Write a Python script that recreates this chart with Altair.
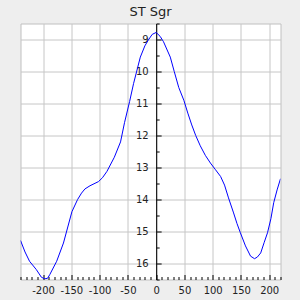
import altair as alt
import pandas as pd

phase = [-240, -232, -224, -212, -203, -197, -192, -188, -176, -164, -149, -139,
         -132, -126, -117, -102, -95, -87, -74, -63, -56, -47, -40, -28, -20, -14,
         -7, 0, 7, 13, 25, 32, 40, 49, 56, 63, 70, 78, 87, 96, 105, 114, 121, 128,
         137, 143, 149, 158, 167, 174, 179, 185, 191, 197, 203, 208, 214, 220]
mag = [15.28, 15.64, 15.93, 16.19, 16.43, 16.48, 16.46, 16.34, 15.93, 15.36, 14.38, 14.00,
       13.80, 13.67, 13.57, 13.44, 13.32, 13.12, 12.68, 12.20, 11.60, 10.94, 10.38, 9.55, 9.20, 9.02,
       8.84, 8.78, 8.90, 9.07, 9.55, 10.00, 10.50, 10.90, 11.30, 11.67, 12.00, 12.32, 12.62, 12.86, 13.07, 13.28, 13.55, 13.95,
       14.42, 14.75, 15.04, 15.45, 15.77, 15.85, 15.80, 15.67, 15.35, 15.04, 14.60, 14.10, 13.70, 13.35]

x_major = list(range(-200, 201, 50))
x_minor = list(range(-240, 221, 10))
y_major = list(range(9, 17))
y_minor = [8.5 + 0.5 * i for i in range(17)]

df = pd.DataFrame({"phase": phase, "mag": mag})

W, H = 260, 256
X_DOMAIN = [-240, 220]
Y_DOMAIN = [8.5, 16.5]
zero_off = W * (0 - X_DOMAIN[0]) / (X_DOMAIN[1] - X_DOMAIN[0])

FONT = "DejaVu Sans"
GRID = "#c6c6c6"

xs = alt.Scale(domain=X_DOMAIN, nice=False, zero=False)
ys = alt.Scale(domain=Y_DOMAIN, reverse=True, nice=False, zero=False)

base = alt.Chart(df)

# visible line; bottom labels + vertical grid; horizontal grid
line = base.mark_line(color="#0000ff", strokeWidth=1, clip=True).encode(
    x=alt.X("phase:Q", scale=xs, axis=alt.Axis(
        orient="bottom", values=x_major, grid=True, gridColor=GRID, gridWidth=1,
        ticks=False, tickSize=0, domain=False, labels=True, labelFont=FONT,
        labelFontSize=10, labelColor="#222222", labelPadding=6,
        labelExpr="datum.value + ''", title=None)),
    y=alt.Y("mag:Q", scale=ys, axis=alt.Axis(
        orient="left", values=y_major, grid=True, gridColor=GRID, gridWidth=1,
        ticks=False, tickSize=0, domain=False, labels=False, title=None)),
)

# inward ticks at bottom; y labels at x = 0
ticks_layer = base.mark_line(strokeOpacity=0).encode(
    x=alt.X("phase:Q", scale=xs, axis=alt.Axis(
        orient="top", offset=-H, values=x_minor, grid=False, domain=False,
        labels=False, ticks=True, tickColor="#000000", tickWidth=1,
        tickSize={"condition": {"test": "datum.value % 50 === 0", "value": 5}, "value": 3},
        title=None)),
    y=alt.Y("mag:Q", scale=ys, axis=alt.Axis(
        orient="left", offset=-zero_off, values=y_major, grid=False, domain=False,
        ticks=False, tickSize=0, labels=True, labelFont=FONT, labelFontSize=10,
        labelColor="#222222", labelPadding=8, labelAlign="right",
        labelBaseline="middle", title=None)),
)

# y axis line at x = 0 with ticks pointing right
yaxis_layer = base.mark_line(strokeOpacity=0).encode(
    x=alt.X("phase:Q", scale=xs, axis=None),
    y=alt.Y("mag:Q", scale=ys, axis=alt.Axis(
        orient="right", offset=-(W - zero_off), values=y_minor, grid=False,
        domain=True, domainColor="#000000", domainWidth=1, labels=False,
        ticks=True, tickColor="#000000", tickWidth=1,
        tickSize={"condition": {"test": "datum.value % 1 === 0", "value": 5}, "value": 3},
        title=None)),
)

chart = alt.layer(line, ticks_layer, yaxis_layer).resolve_axis(
    x="independent", y="independent"
).properties(
    width=W, height=H,
    title=alt.TitleParams(text="ST Sgr", font=FONT, fontSize=13, fontWeight="normal",
                          color="#222222", anchor="middle", offset=-5.5,
                          baseline="alphabetic"),
    autosize=alt.AutoSizeParams(type="none"),
    padding={"left": 20.5, "top": 23.5, "right": 19.5, "bottom": 20.5},
    background="#eeeeee",
).configure_view(
    fill="#ffffff", stroke="#c0c0c0", strokeWidth=1
)

chart.save("out.html", embed_options={"renderer": "svg", "actions": False})
